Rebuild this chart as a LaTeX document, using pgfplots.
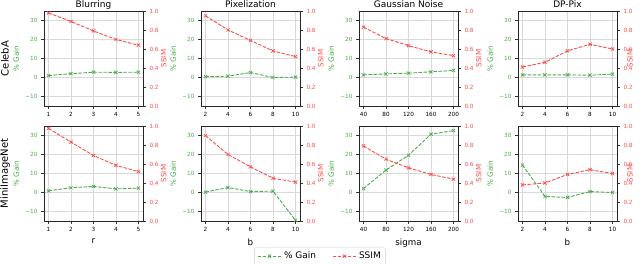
\documentclass[border=0pt]{standalone}
\usepackage{pgfplots}
\pgfplotsset{compat=1.18}
\usepackage{fontspec}
\setmainfont{DejaVu Sans}
\definecolor{gainc}{RGB}{77,170,77}
\definecolor{ssimc}{RGB}{255,77,77}
\pgfplotsset{
  every axis title shift=0pt,
  pbase/.style={scale only axis, width=99pt, height=95pt,
    tick align=outside, major tick length=3pt,
    tick style={black!80, line width=0.6pt},
    axis line style={line width=0.8pt, black!85},
    every tick label/.append style={font=\fontsize{5.7}{7}\selectfont},
    clip=false},
  gainax/.style={pbase, axis y line*=left, xtick pos=lower,
    ymin=-15, ymax=35, ytick={-10,0,10,20,30}, yticklabels={−10,0,10,20,30},
    yticklabel style={text=gainc},
    ylabel={\% Gain},
    ylabel style={text=gainc, font=\fontsize{7.2}{8}\selectfont, at={(axis description cs:-0.28,0.5)}, anchor=center},
    grid=major, major grid style={black!15, line width=0.6pt},
    title style={font=\fontsize{9}{11}\selectfont, at={(axis description cs:0.5,1)}, anchor=base, yshift=3pt, inner sep=0pt},
    xlabel style={font=\fontsize{8.7}{10}\selectfont}},
  ssimax/.style={pbase, axis y line*=right, axis x line=none,
    ymin=0, ymax=1, ytick={0,0.2,0.4,0.6,0.8,1}, yticklabels={0.0,0.2,0.4,0.6,0.8,1.0},
    yticklabel style={text=ssimc},
    ylabel={SSIM},
    ylabel style={text=ssimc, font=\fontsize{7.2}{8}\selectfont, at={(axis description cs:1.21,0.5)}, anchor=center}},
  gainline/.style={color=gainc, dash pattern=on 3.5pt off 1.5pt, line width=0.9pt, mark=x, mark size=2.3pt, mark options={solid, line width=0.7pt}},
  ssimline/.style={color=ssimc, dash pattern=on 3.5pt off 1.5pt, line width=0.9pt, mark=x, mark size=2.3pt, mark options={solid, line width=0.7pt}},
}
% #1 x, #2 y, #3 xmin, #4 xmax, #5 xticks, #6 gain coords, #7 ssim coords, #8 extra gain axis options, #9 extra code
\newcommand{\panel}[9]{%
  \begin{axis}[gainax, at={(#1,#2)}, anchor=south west, xmin=#3, xmax=#4, xtick={#5}, xticklabels={#5}, #8]
    \addplot[gainline] coordinates {#6};
    #9
  \end{axis}
  \begin{axis}[ssimax, at={(#1,#2)}, anchor=south west, xmin=#3, xmax=#4, \ssimextra]
    \addplot[ssimline] coordinates {#7};
  \end{axis}}
\newcommand{\ssimextra}{}
\begin{document}
\begin{tikzpicture}[x=1pt,y=1pt]
\useasboundingbox (0,0) rectangle (640,263);
% Row 1: CelebA
\panel{44pt}{157pt}{0.8}{5.2}{1,2,3,4,5}
  {(1,1.0) (2,2.0) (3,2.8) (4,2.7) (5,2.8)}
  {(1,0.98) (2,0.89) (3,0.79) (4,0.70) (5,0.64)}
  {title={Blurring}}{}
\panel{201pt}{157pt}{1.6}{10.4}{2,4,6,8,10}
  {(2,0.4) (4,0.7) (6,2.6) (8,0.0) (10,0.2)}
  {(2,0.95) (4,0.80) (6,0.69) (8,0.58) (10,0.52)}
  {title={Pixelization}}{}
\panel{359pt}{157pt}{32}{208}{40,80,120,160,200}
  {(40,1.4) (80,1.9) (120,2.3) (160,3.0) (200,3.7)}
  {(40,0.83) (80,0.71) (120,0.635) (160,0.57) (200,0.53)}
  {title={Gaussian Noise}}{}
\renewcommand{\ssimextra}{ylabel style={at={(axis description cs:1.13,0.5)}}}
\panel{518pt}{157pt}{1.6}{10.4}{2,4,6,8,10}
  {(2,1.4) (4,1.4) (6,1.4) (8,1.2) (10,1.8)}
  {(2,0.41) (4,0.46) (6,0.58) (8,0.65) (10,0.60)}
  {title={DP-Pix}}{}
\renewcommand{\ssimextra}{}
% Row 2: MiniImageNet
\panel{44pt}{42pt}{0.8}{5.2}{1,2,3,4,5}
  {(1,0.9) (2,2.5) (3,3.2) (4,1.9) (5,2.3)}
  {(1,0.975) (2,0.83) (3,0.69) (4,0.585) (5,0.52)}
  {xlabel={r}}{}
\panel{201pt}{42pt}{1.6}{10.4}{2,4,6,8,10}
  {(2,0.2) (4,2.6) (6,0.5) (8,0.7) (10,-14.6)}
  {(2,0.90) (4,0.70) (6,0.57) (8,0.45) (10,0.41)}
  {xlabel={b}, legend columns=2,
   legend image code/.code={\draw[mark repeat=2, mark phase=2] plot coordinates {(0pt,0pt) (12pt,0pt) (24pt,0pt)};},
   legend style={at={(axis description cs:1.202,-0.37)}, anchor=center, draw=black!20, rounded corners=2pt,
     font=\fontsize{9}{10}\selectfont, inner sep=2.5pt,
     /tikz/every even column/.append style={column sep=14pt}}}
  {\addlegendentry{\% Gain}\addlegendimage{ssimline}\addlegendentry{SSIM}}
\panel{359pt}{42pt}{32}{208}{40,80,120,160,200}
  {(40,2.1) (80,11.8) (120,19.6) (160,30.7) (200,32.6)}
  {(40,0.79) (80,0.65) (120,0.56) (160,0.49) (200,0.44)}
  {xlabel={sigma}}{}
\renewcommand{\ssimextra}{ylabel style={at={(axis description cs:1.13,0.5)}}}
\panel{518pt}{42pt}{1.6}{10.4}{2,4,6,8,10}
  {(2,14.4) (4,-2.1) (6,-2.6) (8,0.5) (10,0.0)}
  {(2,0.38) (4,0.40) (6,0.49) (8,0.54) (10,0.50)}
  {xlabel={b}}{}
% Row labels
\node[rotate=90, font=\fontsize{10}{12}\selectfont] at (5,204.5) {CelebA};
\node[rotate=90, font=\fontsize{10}{12}\selectfont] at (5,89.5) {MiniImageNet};
\end{tikzpicture}
\end{document}
